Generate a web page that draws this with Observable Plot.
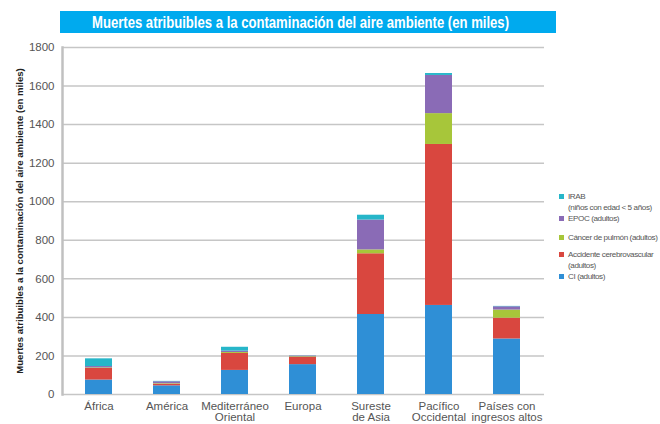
<!DOCTYPE html>
<html>
<head>
<meta charset="utf-8">
<script src="https://cdn.jsdelivr.net/npm/d3@7"></script>
<script src="https://cdn.jsdelivr.net/npm/@observablehq/plot@0.6"></script>
<style>
  html, body { margin: 0; padding: 0; background: #fff; overflow: hidden; width: 660px; height: 424px; }
  #wrap { position: relative; width: 660px; height: 424px; font-family: "Liberation Sans", Arial, sans-serif; }
  #title { display: block; }
  #chart svg { display: block; overflow: visible; }
  #chart g[aria-label="y-axis label"] text { font-weight: bold; font-size: 9.6px; fill: #222; }
  #legend { position: absolute; left: 559px; top: 191px; font-size: 8.1px; color: #555; line-height: 11px; white-space: nowrap; }
  .item { display: flex; align-items: flex-start; }
  .sw { width: 5px; height: 5px; margin-top: 3px; margin-right: 4px; flex: none; }
  .lbl { white-space: pre; letter-spacing: -0.4px; }
</style>
</head>
<body>
<div id="wrap">
  <svg id="title" width="660" height="34"></svg>
  <div id="chart"></div>
  <div id="legend"></div>
</div>
<script>
const titleText = "Muertes atribuibles a la contaminación del aire ambiente (en miles)";
const yLabel = "Muertes atribuibles a la contaminación del aire ambiente (en miles)";
const categories = ["África", "América", "Mediterráneo\nOriental", "Europa", "Sureste\nde Asia", "Pacífico\nOccidental", "Países con\ningresos altos"];
const series = ["CI (adultos)", "Accidente cerebrovascular (adultos)", "Cáncer de pulmón (adultos)", "EPOC (adultos)", "IRAB (niños con edad < 5 años)"];
const legendLabels = ["IRAB\n(niños con edad < 5 años)", "EPOC (adultos)", "Cáncer de pulmón (adultos)", "Accidente cerebrovascular\n(adultos)", "CI (adultos)"];
const colors = ["#2f8fd6", "#d9473f", "#a7c63a", "#8a6bb6", "#26b6c9"];
const ci     = [75, 45, 125, 155, 415, 462, 288];
const acv    = [60, 8, 88, 38, 315, 835, 108];
const cancer = [3, 3, 5, 3, 20, 160, 42];
const epoc   = [7, 10, 7, 3, 155, 198, 17];
const irab   = [40, 2, 20, 1, 25, 10, 2];
const yTicks = [0, 200, 400, 600, 800, 1000, 1200, 1400, 1600, 1800];

const valuesBySeries = [ci, acv, cancer, epoc, irab];
const rows = [];
series.forEach((s, si) => categories.forEach((c, ci2) => rows.push({region: c, serie: s, value: valuesBySeries[si][ci2]})));

// Title banner
const tsvg = d3.select("#title");
tsvg.append("rect").attr("x", 60).attr("y", 11).attr("width", 496).attr("height", 22).attr("fill", "#00aaee");
tsvg.append("text").attr("x", 92).attr("y", 28)
  .attr("fill", "#fff").attr("font-weight", "bold").attr("font-size", 16)
  .attr("font-family", "Liberation Sans, Arial, sans-serif")
  .attr("textLength", 417).attr("lengthAdjust", "spacingAndGlyphs")
  .text(titleText);

const chart = Plot.plot({
  width: 660,
  height: 390,
  marginTop: 13,
  marginBottom: 30,
  marginLeft: 62,
  marginRight: 116,
  style: {fontFamily: "Liberation Sans, Arial, sans-serif", fontSize: "11.5px", color: "#555", background: "transparent"},
  x: {domain: categories, paddingInner: 0.6, paddingOuter: 0.32, label: null},
  y: {domain: [0, 1800], label: yLabel},
  color: {domain: series, range: colors},
  marks: [
    Plot.gridY(yTicks, {stroke: "#c6c6c6", strokeOpacity: 1, strokeWidth: 1.5}),
    Plot.barY(rows, {x: "region", y: "value", fill: "serie", order: series}),
    Plot.axisY(yTicks, {tickSize: 0, tickPadding: 8, tickFormat: d => String(d), label: yLabel, labelAnchor: "center", labelOffset: 46, labelArrow: "none"}),
    Plot.axisX({tickSize: 0, tickPadding: 7, label: null, lineHeight: 1}),
    Plot.frame({anchor: "left", stroke: "#c0c0c0", strokeWidth: 2.5})
  ]
});
document.getElementById("chart").appendChild(chart);

// Legend (top to bottom, reverse stack order)
const legend = d3.select("#legend");
const legendColors = colors.slice().reverse();
const gaps = [0, 8, 6, 0, 0];
legendLabels.forEach((l, i) => {
  const it = legend.append("div").attr("class", "item").style("margin-bottom", gaps[i] + "px");
  it.append("div").attr("class", "sw").style("background", legendColors[i]);
  it.append("div").attr("class", "lbl").text(l);
});
</script>
</body>
</html>
